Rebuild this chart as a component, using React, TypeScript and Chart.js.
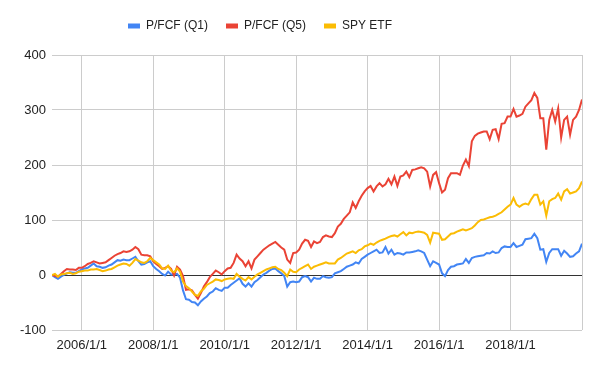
import React, { useEffect, useRef } from "react";
import { Chart, registerables } from "chart.js";

Chart.register(...registerables);

// ---- data ----
const FIRST_YEAR = 2005;
const FIRST_MONTH = 3;
const MONTH_COUNT = 179;
const dates: string[] = Array.from({ length: MONTH_COUNT }, (_, i) => {
  const m = FIRST_MONTH - 1 + i;
  return `${FIRST_YEAR + Math.floor(m / 12)}/${(m % 12) + 1}/1`;
});

const seriesNames = ["P/FCF (Q1)", "P/FCF (Q5)", "SPY ETF"];
const seriesColors = ["#4285F4", "#EA4335", "#FBBC04"];

const xTickDates = ["2006/1/1", "2008/1/1", "2010/1/1", "2012/1/1", "2014/1/1", "2016/1/1", "2018/1/1", "2020/1/1"];
const xTickHidden = ["2020/1/1"];
const yTicks = [-100, 0, 100, 200, 300, 400];

const q1: number[] = [
  0, -4, -7, -3, 0, 3, 5, 4, 4, 7,
  10, 12, 13, 17, 21, 16, 15, 13, 14, 17, 19, 23,
  27, 26, 28, 27, 27, 30, 33, 25, 19, 20, 23, 25,
  16, 11, 7, 2, -1, 6, 1, 1, 2, -5, -28, -44,
  -45, -49, -50, -55, -48, -43, -39, -33, -30, -24, -27, -29,
  -23, -23, -18, -14, -10, -6, -16, -21, -15, -21, -13, -9,
  -4, 1, 4, 8, 11, 12, 7, 3, -2, -21, -13, -12,
  -13, -12, -4, -2, -4, -12, -5, -7, -7, -2, -4, -5,
  -4, 3, 5, 7, 11, 15, 17, 19, 23, 21, 29, 33,
  37, 40, 43, 46, 40, 41, 51, 39, 46, 37, 40, 39,
  37, 41, 41, 42, 43, 45, 43, 40, 28, 16, 25, 22,
  19, 3, -2, 9, 15, 16, 19, 20, 21, 29, 22, 31,
  33, 34, 35, 36, 40, 39, 43, 40, 41, 49, 52, 51,
  51, 58, 51, 53, 55, 65, 66, 67, 75, 67, 46, 47,
  24, 40, 47, 47, 47, 35, 44, 39, 33, 34, 39, 43,
  57,
];

const q5: number[] = [
  0, -2, -3, 2, 7, 11, 10, 10, 9, 13,
  13, 16, 20, 22, 25, 23, 21, 22, 23, 27, 31, 35,
  38, 40, 43, 42, 43, 46, 51, 47, 37, 36, 36, 34,
  25, 20, 16, 11, 13, 16, 11, -1, 15, 10, -2, -27,
  -26, -28, -36, -43, -33, -21, -13, -4, 2, 8, 5, 1,
  7, 12, 13, 22, 37, 30, 25, 16, 25, 12, 28, 34,
  40, 46, 50, 54, 57, 60, 55, 50, 46, 28, 22, 40,
  41, 46, 57, 64, 62, 51, 61, 58, 60, 69, 72, 70,
  69, 76, 88, 93, 102, 108, 114, 132, 122, 134, 144, 152,
  158, 162, 152, 161, 167, 161, 165, 175, 165, 179, 162, 179,
  181, 188, 178, 191, 192, 194, 196, 194, 188, 161, 182, 187,
  167, 150, 155, 176, 185, 185, 185, 182, 199, 210, 198, 243,
  253, 257, 259, 261, 261, 247, 264, 265, 247, 275, 276, 288,
  288, 302, 288, 290, 293, 306, 312, 318, 331, 322, 285, 285,
  228, 282, 300, 279, 303, 250, 282, 288, 255, 282, 288, 300,
  319,
];

const spy: number[] = [
  0, 2, -3, 1, 2, 3, 4, 2, 3, 6,
  7, 8, 8, 10, 10, 11, 9, 7, 8, 10, 11, 14,
  17, 19, 21, 20, 17, 22, 29, 26, 23, 22, 25, 31,
  27, 23, 19, 12, 11, 17, 8, 5, 12, 6, -12, -20,
  -24, -30, -36, -38, -30, -25, -18, -15, -12, -8, -9, -11,
  -8, -7, -6, -7, 2, -3, -7, -10, -4, -8, -3, 1,
  4, 7, 10, 12, 14, 15, 11, 9, 4, -2, 10, 6,
  5, 10, 13, 16, 19, 11, 15, 17, 19, 21, 23, 21,
  21, 21, 28, 31, 35, 39, 41, 43, 40, 45, 47, 52,
  54, 57, 55, 59, 62, 64, 66, 69, 71, 72, 70, 74,
  78, 72, 77, 76, 78, 79, 78, 77, 73, 59, 77, 76,
  75, 64, 65, 70, 75, 76, 79, 81, 83, 81, 83, 85,
  90, 96, 100, 101, 103, 105, 106, 108, 111, 114, 119, 124,
  128, 140, 128, 124, 128, 130, 128, 138, 146, 146, 128, 134,
  108, 134, 138, 140, 148, 137, 152, 156, 148, 150, 152, 158,
  170,
];

const seriesValues = [q1, q5, spy];

const FONT = "'Liberation Sans', Arial, Helvetica, sans-serif";
const TEXT_COLOR = "#222222";
const GRID_COLOR = "#cccccc";
const ZERO_COLOR = "#333333";

const xTickIndices = xTickDates.map((d) => dates.indexOf(d)).filter((i) => i >= 0);

const legendPlugin = {
  id: "legendTweak",
  beforeLayout(chart: any) {
    const lg = chart.legend;
    if (lg && !lg.__patched) {
      const orig = lg.fit;
      lg.fit = function () {
        orig.call(this);
        this.height += 13;
      };
      lg.__patched = true;
    }
  },
  afterLayout(chart: any) {
    const lg = chart.legend;
    if (lg) {
      lg.left = 110;
      lg.right = 602;
    }
  },
};

export default function App() {
  const ref = useRef<HTMLCanvasElement | null>(null);

  useEffect(() => {
    if (!ref.current) return;
    const datasets = seriesNames.map((name, k) => ({
      label: name,
      data: seriesValues[k].map((v, i) => ({ x: i, y: v })),
      borderColor: seriesColors[k],
      backgroundColor: seriesColors[k],
      borderWidth: 2,
      pointRadius: 0,
      pointHoverRadius: 0,
      tension: 0,
      fill: false,
      order: seriesNames.length - k,
    }));

    const chart = new Chart(ref.current, {
      type: "line",
      data: { datasets },
      options: {
        responsive: false,
        animation: false,
        layout: { padding: { top: 2, left: 0, right: 20, bottom: 0 } },
        plugins: {
          legend: {
            position: "top",
            align: "start",
            labels: {
              boxWidth: 12,
              boxHeight: 5,
              padding: 18,
              color: TEXT_COLOR,
              font: { family: FONT, size: 12 },
              generateLabels: (c: any) =>
                Chart.defaults.plugins.legend.labels
                  .generateLabels(c)
                  .sort((a: any, b: any) => a.datasetIndex - b.datasetIndex)
                  .map((l: any) => ({
                    ...l,
                    lineWidth: 0,
                    fillStyle: seriesColors[l.datasetIndex],
                    strokeStyle: seriesColors[l.datasetIndex],
                  })),
            },
          },
          tooltip: { enabled: false },
        },
        scales: {
          x: {
            type: "linear",
            min: 0,
            max: dates.length - 1,
            afterBuildTicks: (s: any) => {
              s.ticks = xTickIndices.map((v) => ({ value: v }));
            },
            afterFit: (s: any) => {
              s.height = 42;
            },
            grid: { color: GRID_COLOR, lineWidth: 1, drawTicks: false },
            border: { display: false },
            ticks: {
              autoSkip: false,
              maxRotation: 0,
              padding: 8,
              color: TEXT_COLOR,
              font: { family: FONT, size: 13 },
              callback: (v: any) => {
                const d = dates[Math.round(Number(v))];
                return xTickHidden.includes(d) ? "" : d;
              },
            },
          },
          y: {
            min: -100,
            max: 400,
            afterBuildTicks: (s: any) => {
              s.ticks = yTicks.map((v) => ({ value: v }));
            },
            afterFit: (s: any) => {
              s.width = 52;
            },
            grid: {
              color: (ctx: any) => (ctx.tick && ctx.tick.value === 0 ? ZERO_COLOR : GRID_COLOR),
              lineWidth: 1,
              drawTicks: false,
            },
            border: { display: false },
            ticks: {
              padding: 6,
              color: TEXT_COLOR,
              font: { family: FONT, size: 13 },
            },
          },
        },
      },
      plugins: [legendPlugin],
    } as any);

    return () => chart.destroy();
  }, []);

  return (
    <div style={{ position: "fixed", left: 0, top: 0, width: 602, height: 372, background: "#fff" }}>
      <canvas ref={ref} width={602} height={372} style={{ display: "block" }} />
    </div>
  );
}
